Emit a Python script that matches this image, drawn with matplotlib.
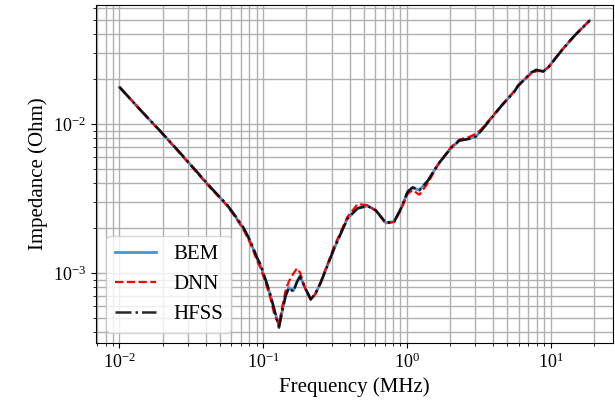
import matplotlib
matplotlib.use("Agg")
import matplotlib.pyplot as plt

# ---- values (MHz, Ohm) ----
freq = [0.0100, 0.0140, 0.0198, 0.0260, 0.0328, 0.0430, 0.0561, 0.0650, 0.0733,
        0.0817, 0.0910, 0.0960, 0.107, 0.1127, 0.1200, 0.1289, 0.1360, 0.1433,
        0.151, 0.1622, 0.1720, 0.1803, 0.1950, 0.2143, 0.2300, 0.2518, 0.311,
        0.386, 0.454, 0.532, 0.608, 0.714, 0.817, 0.910, 1.013, 1.097, 1.221,
        1.397, 1.641, 2.03, 2.32, 2.72, 3.03, 3.29, 4.07, 4.54, 5.62, 5.93,
        7.35, 7.96, 8.87, 9.62, 11.9, 14.7, 18.7]

bem = [0.0177, 0.0124, 0.00869, 0.00650, 0.00505, 0.00375, 0.00285, 0.00235, 0.00198,
       0.00161, 0.00124, 0.00112, 0.000822, 0.000700, 0.000560, 0.000442, 0.000560, 0.000703,
       0.000800, 0.000760, 0.000880, 0.000951, 0.000800, 0.000667, 0.000720, 0.000865, 0.00145,
       0.00232, 0.00271, 0.00282, 0.00264, 0.00217, 0.00222, 0.00271, 0.00351, 0.00373, 0.00360,
       0.00415, 0.00532, 0.00689, 0.00773, 0.00797, 0.00826, 0.00902, 0.0116, 0.0132, 0.0166,
       0.0180, 0.0221, 0.0230, 0.0225, 0.0239, 0.0310, 0.0392, 0.0494]

dnn = [0.0177, 0.0124, 0.00865, 0.00645, 0.00500, 0.00372, 0.00283, 0.00232, 0.00194,
       0.00157, 0.00120, 0.00108, 0.000790, 0.000670, 0.000520, 0.000452, 0.000600, 0.000760,
       0.000880, 0.000990, 0.001076, 0.001010, 0.000800, 0.000662, 0.000720, 0.000870, 0.00150,
       0.00238, 0.00290, 0.00285, 0.00262, 0.00215, 0.00220, 0.00266, 0.00340, 0.00360, 0.00335,
       0.00400, 0.00530, 0.00700, 0.00785, 0.00820, 0.00860, 0.00920, 0.0117, 0.0133, 0.0167,
       0.0181, 0.0219, 0.0226, 0.0228, 0.0240, 0.0312, 0.0394, 0.0496]

hfss = [0.0177, 0.0124, 0.00870, 0.00652, 0.00507, 0.00377, 0.00287, 0.00237, 0.00200,
        0.00163, 0.00126, 0.00114, 0.000830, 0.000705, 0.000560, 0.000430, 0.000560, 0.000703,
        0.000795, 0.000750, 0.000870, 0.000945, 0.000800, 0.000667, 0.000720, 0.000865, 0.00145,
        0.00232, 0.00272, 0.00282, 0.00263, 0.00217, 0.00222, 0.00271, 0.00352, 0.00376, 0.00360,
        0.00415, 0.00535, 0.00692, 0.00775, 0.00795, 0.00826, 0.00902, 0.0116, 0.0132, 0.0166,
        0.0180, 0.0222, 0.0231, 0.0225, 0.0239, 0.0310, 0.0392, 0.0494]

plt.rcParams["font.family"] = ["Liberation Serif", "DejaVu Serif"]
plt.rcParams["mathtext.fontset"] = "stix"

fig = plt.figure(figsize=(6.15, 4.16), dpi=100)
ax = fig.add_axes([0.156, 0.1755, 0.841, 0.8125])

ax.loglog(freq, bem, color="#4b93cc", lw=2.0, label="BEM")
ax.loglog(freq, dnn, color="red", ls="--", lw=1.6, label="DNN")
ax.loglog(freq, hfss, color="black", ls="-.", lw=1.8, alpha=0.85, label="HFSS")

ax.grid(True, which="both", color="#b0b0b0", lw=1.0)
ax.set_xlabel("Frequency (MHz)", fontsize=15)
ax.set_ylabel("Impedance (Ohm)", fontsize=15)
ax.tick_params(labelsize=13)
ax.legend(loc="lower left", fontsize=15)

fig.savefig("out.png", dpi=100)
